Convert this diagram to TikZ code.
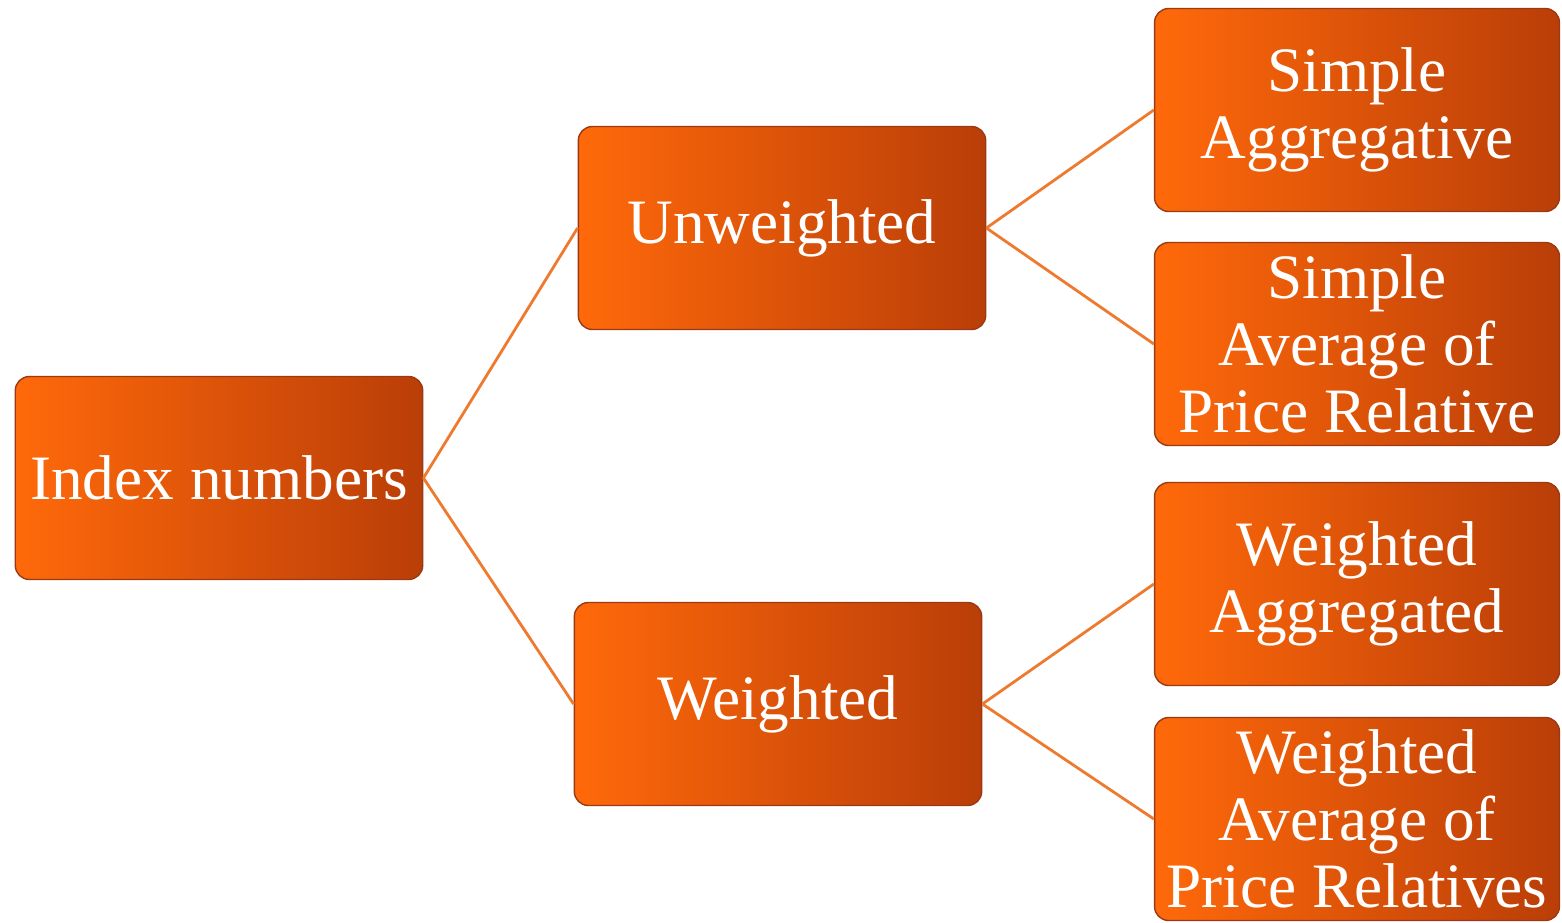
\documentclass[tikz,border=0pt]{standalone}
\usepackage{fontspec}
\setmainfont{Liberation Serif}
\definecolor{boxlight}{HTML}{FF690A}
\definecolor{boxdark}{HTML}{BA3E08}
\definecolor{boxedge}{HTML}{9A3A14}
\definecolor{linkcol}{HTML}{EE7A30}
\begin{document}
\begin{tikzpicture}[x=0.02cm,y=-0.02cm,
  every node/.style={font=\fontsize{36}{38}\selectfont,text=white,align=center},
  catbox/.style={draw=boxedge,line width=0.8pt,rounded corners=8pt,left color=boxlight,right color=boxdark,minimum width=8.15cm,minimum height=4.06cm,inner sep=0pt},
  leafbox/.style={catbox,minimum width=8.1cm},
  link/.style={draw=linkcol,line width=1.6pt}]
\useasboundingbox (0,0) rectangle (1562,923);
\node[catbox] (idx) at (219,478) {Index numbers};
\node[catbox] (unw) at (782,228) {Unweighted};
\node[catbox] (wtd) at (778,704) {Weighted};
\node[leafbox] (sagg) at (1357,110) {Simple\\Aggregative};
\node[leafbox] (savg) at (1357,344) {Simple\\Average of\\Price Relative};
\node[leafbox] (wagg) at (1357,584) {Weighted\\Aggregated};
\node[leafbox] (wavg) at (1357,819) {Weighted\\Average of\\Price Relatives};
\draw[link] (idx.east) -- (unw.west) (idx.east) -- (wtd.west);
\draw[link] (unw.east) -- (sagg.west) (unw.east) -- (savg.west);
\draw[link] (wtd.east) -- (wagg.west) (wtd.east) -- (wavg.west);
\end{tikzpicture}
\end{document}
